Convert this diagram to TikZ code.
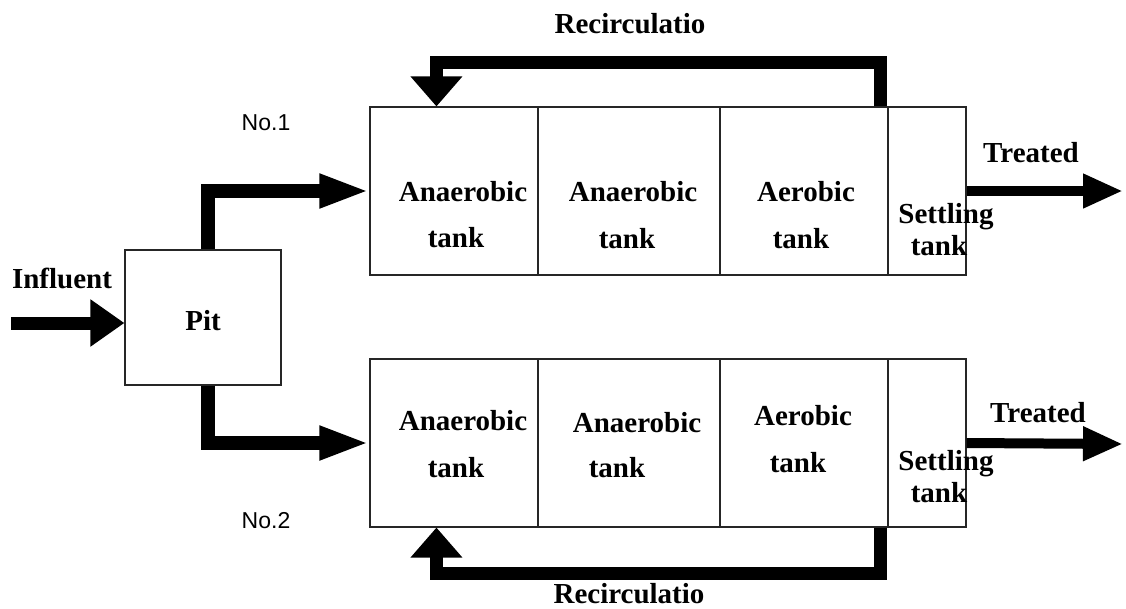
\documentclass[tikz,border=0pt]{standalone}
\usepackage{fontspec}
\setmainfont{Liberation Serif}
\newfontfamily\labelsans{Liberation Sans}
\usetikzlibrary{arrows.meta}
\begin{document}
\begin{tikzpicture}[x=1pt,y=-1pt,
  box/.style={draw=black!85,line width=1.1pt,inner sep=0pt,minimum height=168pt},
  lbl/.style={inner sep=0pt,anchor=base,font=\fontsize{29}{34}\selectfont\bfseries},
  sans/.style={inner sep=0pt,anchor=base,font=\labelsans\fontsize{23}{27}\selectfont},
  flow/.style={line width=14pt,-{Triangle[length=50pt,width=31pt]}},
  inflow/.style={line width=13pt,-{Triangle[length=34pt,width=45pt]}},
  outflow/.style={line width=10pt,-{Triangle[length=40pt,width=32pt]}},
  recirc/.style={line width=13pt,-{Triangle[length=30pt,width=50pt]}}]
\useasboundingbox (0,0) rectangle (1126,608);
% pit
\node[box,minimum width=156pt,minimum height=135pt] (pit) at (203,317.5) {};
% upper train
\node[box,minimum width=168pt] (u1) at (454,191) {};
\node[box,minimum width=182pt] (u2) at (629,191) {};
\node[box,minimum width=168pt] (u3) at (804,191) {};
\node[box,minimum width=78pt]  (u4) at (927,191) {};
% lower train
\node[box,minimum width=168pt] (l1) at (454,443) {};
\node[box,minimum width=182pt] (l2) at (629,443) {};
\node[box,minimum width=168pt] (l3) at (804,443) {};
\node[box,minimum width=78pt]  (l4) at (927,443) {};
% free ends
\coordinate (inf) at (11,323);
\coordinate (tu) at (1123,191);
\coordinate (tl) at (1123,444);
% connectors
\draw[inflow] (inf) -- (inf -| pit.west);
\draw[flow] ([xshift=5pt]pit.north) |- (u1.west);
\draw[flow] ([xshift=5pt]pit.south) |- (l1.west);
\draw[outflow] (u4.east) -- (tu);
\draw[outflow] (l4.east) -- (tl);
\draw[recirc] ([xshift=-8pt]u3.north east) -- ++(0,-44) -| ([xshift=67pt]u1.north west);
\draw[recirc] ([xshift=-8pt]l3.south east) -- ++(0,46) -| ([xshift=67pt]l1.south west);
% labels
\node[lbl] (trec) at (630,33) {Recirculatio};
\node[lbl] (brec) at (629,603) {Recirculatio};
\node[lbl] (tinf) at (62,288) {Influent};
\node[lbl] (tpit) at (203,330) {Pit};
\node[sans] (no1) at (266,130) {No.1};
\node[sans] (no2) at (266,528) {No.2};
% upper texts
\node[lbl] (ua1) at (463,201) {Anaerobic};
\node[lbl] (ut1) at (456,247) {tank};
\node[lbl] (ua2) at (633,201) {Anaerobic};
\node[lbl] (ut2) at (627,248) {tank};
\node[lbl] (ua3) at (806,201) {Aerobic};
\node[lbl] (ut3) at (801,248) {tank};
\node[lbl] (us4) at (946,223) {Settling};
\node[lbl] (ut4) at (939,255) {tank};
\node[lbl] (utr) at (1031,162) {Treated};
% lower texts
\node[lbl] (la1) at (463,430) {Anaerobic};
\node[lbl] (lt1) at (456,477) {tank};
\node[lbl] (la2) at (637,432) {Anaerobic};
\node[lbl] (lt2) at (617,477) {tank};
\node[lbl] (la3) at (803,425) {Aerobic};
\node[lbl] (lt3) at (798,472) {tank};
\node[lbl] (ls4) at (946,470) {Settling};
\node[lbl] (lt4) at (939,502) {tank};
\node[lbl] (ltr) at (1038,422) {Treated};
\end{tikzpicture}
\end{document}
